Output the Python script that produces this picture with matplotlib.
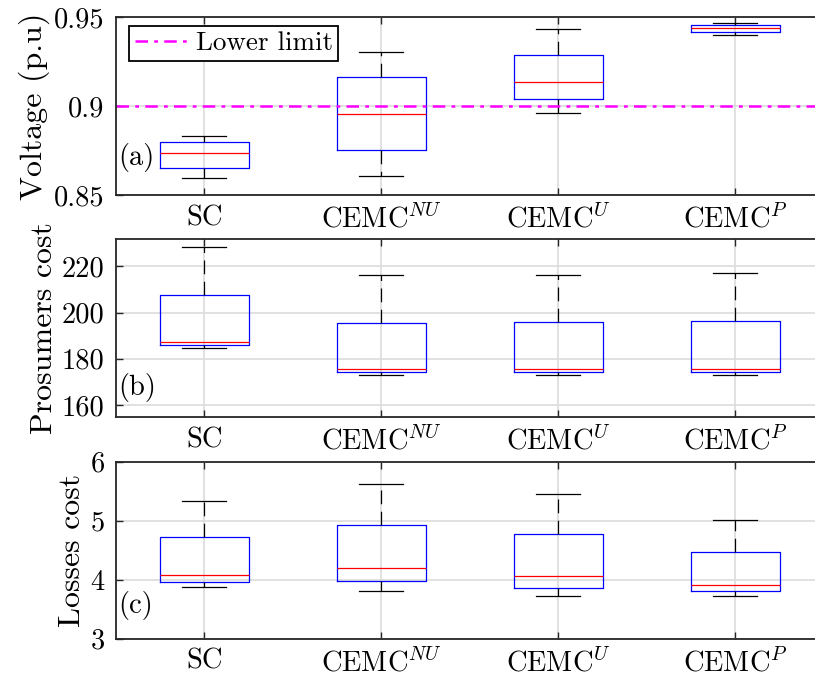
import matplotlib
matplotlib.use("Agg")
import matplotlib.pyplot as plt
from matplotlib.ticker import FuncFormatter

plt.rcParams['font.family'] = 'cmr10'
plt.rcParams['mathtext.fontset'] = 'cm'
plt.rcParams['axes.formatter.use_mathtext'] = True
plt.rcParams['axes.unicode_minus'] = False

groups = ['SC', r'CEMC$^{NU}$', r'CEMC$^{U}$', r'CEMC$^{P}$']

# five-number summaries per scheme (low whisker, Q1, median, Q3, high whisker)
voltage_low = [0.8597, 0.8607, 0.8962, 0.9399]
voltage_q1 = [0.8652, 0.8751, 0.9041, 0.9417]
voltage_med = [0.8736, 0.8957, 0.9133, 0.9440]
voltage_q3 = [0.8798, 0.9161, 0.9287, 0.9457]
voltage_high = [0.8833, 0.9303, 0.9431, 0.9465]
voltage_limit = 0.9

prosumer_low = [184.8, 172.8, 172.9, 172.8]
prosumer_q1 = [186.1, 174.2, 174.2, 174.2]
prosumer_med = [187.2, 175.4, 175.6, 175.7]
prosumer_q3 = [207.6, 195.6, 195.8, 196.5]
prosumer_high = [228.2, 216.2, 216.4, 217.2]

losses_low = [3.871, 3.814, 3.729, 3.719]
losses_q1 = [3.956, 3.983, 3.864, 3.803]
losses_med = [4.075, 4.193, 4.058, 3.910]
losses_q3 = [4.719, 4.932, 4.780, 4.475]
losses_high = [5.334, 5.627, 5.458, 5.017]

TICK_FS = 20.5
LABEL_FS = 23
LEG_FS = 19.5


def make_stats(low, q1, med, q3, high):
    return [dict(whislo=a, q1=b, med=c, q3=d, whishi=e, fliers=[])
            for a, b, c, d, e in zip(low, q1, med, q3, high)]


def draw_panel(ax, stats, ylim, yticks, ylabel, tag, tag_y):
    ax.bxp(stats, positions=range(1, len(stats) + 1), widths=0.5, capwidths=0.25,
           showfliers=False,
           boxprops=dict(color='#0000ff', linewidth=0.9),
           medianprops=dict(color='#ff0000', linewidth=0.9),
           whiskerprops=dict(color='black', linewidth=0.9, linestyle=(0, (11, 6))),
           capprops=dict(color='black', linewidth=0.9))
    ax.set_xlim(0.5, 4.5)
    ax.set_ylim(*ylim)
    ax.set_yticks(yticks)
    ax.yaxis.set_major_formatter(FuncFormatter(lambda v, _: f'{v:g}'))
    ax.set_xticks(range(1, len(groups) + 1))
    ax.set_xticklabels(groups)
    ax.grid(True, color='#dcdcdc', linewidth=1.2)
    ax.set_axisbelow(True)
    ax.tick_params(direction='in', length=5, width=1.0, top=True, right=True,
                   labelsize=TICK_FS, color='#262626')
    ax.tick_params(axis='x', pad=7)
    ax.tick_params(axis='y', pad=8)
    for s in ax.spines.values():
        s.set_color('#262626')
        s.set_linewidth(1.3)
    ax.set_ylabel(ylabel, fontsize=LABEL_FS, labelpad=3)
    ax.text(0.003, tag_y, tag, transform=ax.transAxes, fontsize=TICK_FS,
            ha='left', va='center')


fig = plt.figure(figsize=(8.15, 6.84), dpi=100)
W = 708 / 815
ax1 = fig.add_axes([0.1421, 0.7149, W, 0.2602])
ax2 = fig.add_axes([0.1421, 0.3899, W, 0.2607])
ax3 = fig.add_axes([0.1421, 0.0662, W, 0.2588])

draw_panel(ax1, make_stats(voltage_low, voltage_q1, voltage_med, voltage_q3, voltage_high),
           (0.85, 0.95), [0.85, 0.9, 0.95], 'Voltage (p.u)', '(a)', 0.21)
ax1.axhline(voltage_limit, color='#ff00ff', linewidth=1.8,
            linestyle=(0, (5, 2.5, 1.5, 2.5)), label='Lower limit')
leg = ax1.legend(loc='upper left', bbox_to_anchor=(0.019, 0.95), borderaxespad=0,
                 fontsize=LEG_FS, fancybox=False, framealpha=1, edgecolor='black',
                 handlelength=2.0, handletextpad=0.25, borderpad=0.2)
leg.get_frame().set_linewidth(1.3)

draw_panel(ax2, make_stats(prosumer_low, prosumer_q1, prosumer_med, prosumer_q3, prosumer_high),
           (154.7, 231.8), [160, 180, 200, 220], 'Prosumers cost', '(b)', 0.165)

draw_panel(ax3, make_stats(losses_low, losses_q1, losses_med, losses_q3, losses_high),
           (3, 6), [3, 4, 5, 6], 'Losses cost', '(c)', 0.19)

fig.savefig('out.png', dpi=100)
